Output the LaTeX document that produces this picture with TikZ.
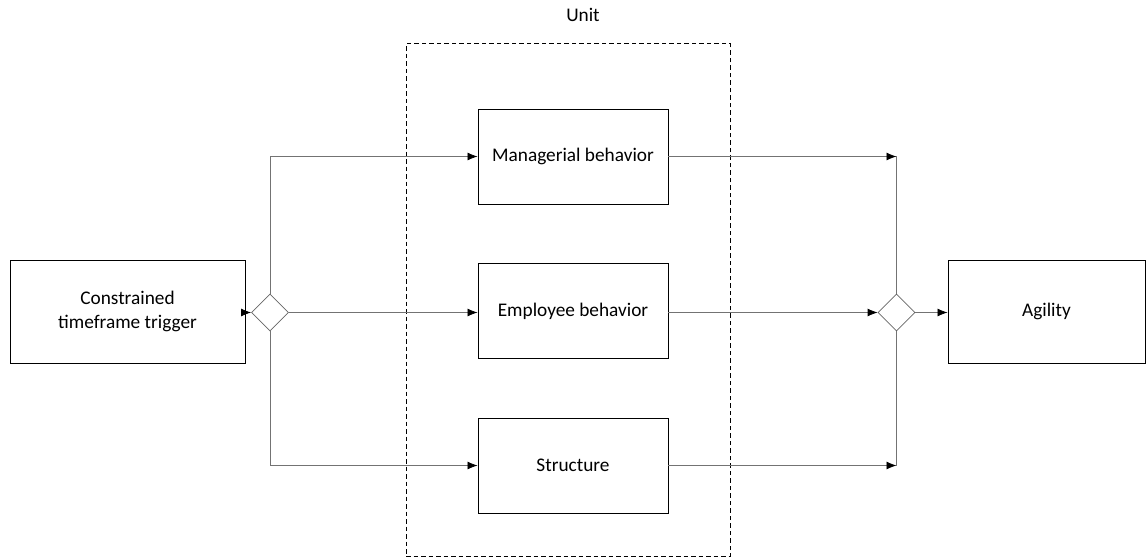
\documentclass[tikz,border=0pt]{standalone}
\usepackage{fontspec}
\setmainfont{Carlito}
\usepackage{tikz}
\usetikzlibrary{positioning}
\usetikzlibrary{arrows.meta,shapes.geometric}
\tikzset{edge/.style = {->, > = {Latex[length=10pt,width=8pt,color=black]}, draw=black!55, line width=0.8pt}}
\tikzset{link/.style = {draw=black!55, line width=0.8pt}}

\begin{document}
\begin{tikzpicture}[x=1pt,y=-1pt,node distance=154.5pt,
    main node/.style={rectangle,draw,line width=0.9pt,align=center,minimum width=190pt,minimum height=95pt,font=\fontsize{19.3}{24.5}\selectfont},
    gate node/.style={diamond,draw=black!60,line width=0.8pt,minimum size=37pt,inner sep=0pt}]
            \useasboundingbox (0,0) rectangle (1146,559);

            % unit column
            \node[main node] (mgr) at (573,156.5) {Managerial behavior};
            \node[main node] (emp) [below of=mgr] {Employee behavior};
            \node[main node] (str) [below of=emp] {Structure};
            \node[draw,dash pattern=on 4.5pt off 3pt,line width=1pt,minimum width=324pt,minimum height=512pt] (unit) at (568,300) {};
            \node[font=\fontsize{19.3}{22}\selectfont] (unitlabel) at (583,15) {Unit};

            % trigger and outcome
            \node[main node,minimum width=235pt,minimum height=103pt] (trig) at (127.5,311.5) {Constrained\\timeframe trigger};
            \node[main node,minimum width=197pt,minimum height=103pt] (agil) at (1046.5,311.5) {Agility};

            % gates
            \node[gate node] (split) at (270,312.5) {};
            \node[gate node] (join) at (896.5,312.5) {};
            \coordinate (jtop) at (mgr.east -| join.north);
            \coordinate (jbot) at (str.east -| join.south);

            \path (trig.east |- split) edge[edge] (split.west);
            \path (split.north) edge[edge, to path={|- (\tikztotarget)}] (mgr.west);
            \path (split.east) edge[edge] (emp.west |- split);
            \path (split.south) edge[edge, to path={|- (\tikztotarget)}] (str.west);

            \path (mgr.east) edge[edge] (jtop);
            \path (jtop) edge[link] (join.north);
            \path (emp.east |- join) edge[edge] (join.west);
            \path (str.east) edge[edge] (jbot);
            \path (jbot) edge[link] (join.south);
            \path (join.east) edge[edge] (agil.west |- join);

        \end{tikzpicture}
\end{document}
